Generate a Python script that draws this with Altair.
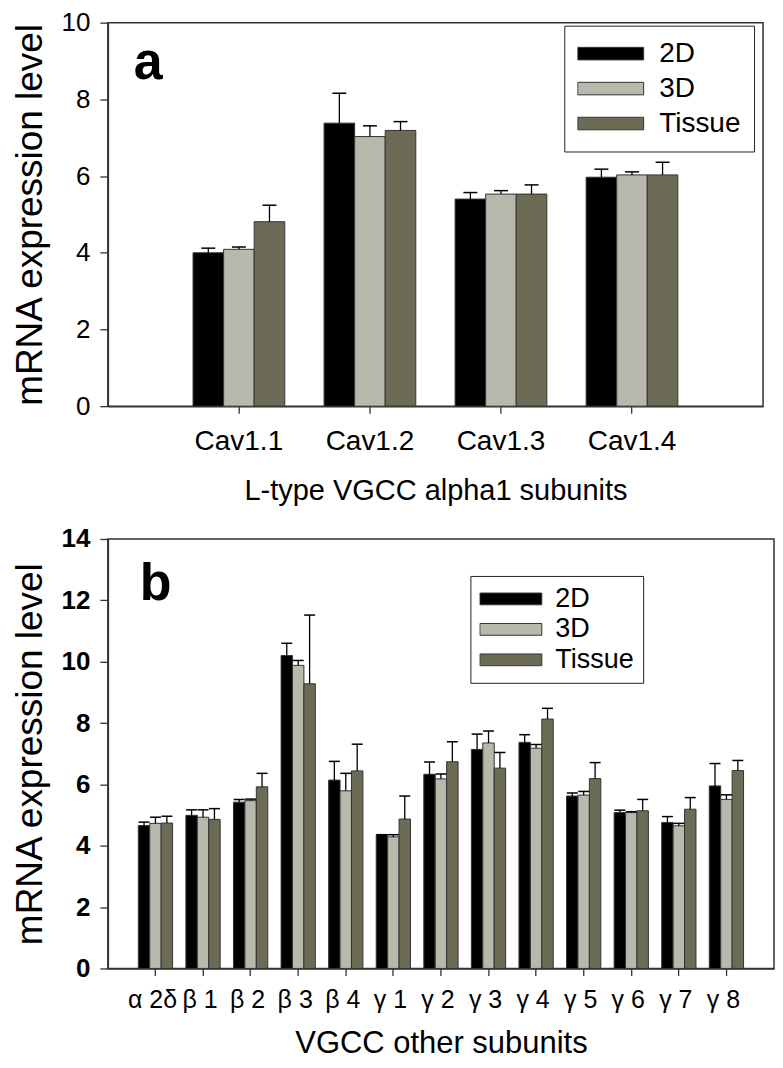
import altair as alt
import pandas as pd

series = ["2D", "3D", "Tissue"]
colors = ["#000000", "#b8b9ac", "#6c6c56"]

a_cats = ["Cav1.1", "Cav1.2", "Cav1.3", "Cav1.4"]
a_2d = [4.00, 7.38, 5.40, 5.97]
a_2d_err = [0.12, 0.78, 0.17, 0.21]
a_3d = [4.09, 7.03, 5.53, 6.03]
a_3d_err = [0.06, 0.28, 0.09, 0.08]
a_tis = [4.81, 7.19, 5.53, 6.03]
a_tis_err = [0.43, 0.23, 0.24, 0.33]

b_cats = ["α 2δ", "β 1", "β 2", "β 3", "β 4", "γ 1", "γ 2",
          "γ 3", "γ 4", "γ 5", "γ 6", "γ 7", "γ 8"]
b_2d = [4.66, 4.99, 5.42, 10.20, 6.14, 4.36, 6.33, 7.14, 7.37, 5.62, 5.08, 4.76, 5.95]
b_2d_err = [0.11, 0.18, 0.09, 0.40, 0.61, 0.00, 0.40, 0.50, 0.25, 0.10, 0.08, 0.19, 0.73]
b_3d = [4.73, 4.93, 5.47, 9.88, 5.79, 4.29, 6.18, 7.35, 7.18, 5.65, 5.08, 4.65, 5.51]
b_3d_err = [0.20, 0.24, 0.05, 0.16, 0.57, 0.07, 0.16, 0.39, 0.12, 0.12, 0.03, 0.08, 0.15]
b_tis = [4.74, 4.86, 5.92, 9.28, 6.44, 4.87, 6.74, 6.53, 8.13, 6.19, 5.14, 5.19, 6.45]
b_tis_err = [0.22, 0.35, 0.44, 2.24, 0.87, 0.75, 0.65, 0.51, 0.35, 0.52, 0.37, 0.38, 0.33]


def make_df(cats, vals, errs):
    rows = []
    for s, v, e in zip(series, vals, errs):
        for c, vi, ei in zip(cats, v, e):
            rows.append({"cat": c, "series": s, "value": vi, "upper": vi + ei})
    return pd.DataFrame(rows)


df_a = make_df(a_cats, [a_2d, a_3d, a_tis], [a_2d_err, a_3d_err, a_tis_err])
df_b = make_df(b_cats, [b_2d, b_3d, b_tis], [b_2d_err, b_3d_err, b_tis_err])

FONT = "Liberation Sans"
YTITLE = "mRNA expression level"


def panel(df, cats, ymax, w, h, pin, pout, xtitle, xlab_size, xtitle_size,
          ylab_weight, label, label_xy, cap_w, leg):
    x = alt.X("cat:N", sort=cats,
              scale=alt.Scale(paddingInner=pin, paddingOuter=pout),
              axis=alt.Axis(title=xtitle, labelAngle=0, labelFontSize=xlab_size,
                            titleFontSize=xtitle_size, titleFontWeight="normal",
                            labelPadding=leg["xlp"], titlePadding=leg["xtp"],
                            tickSize=7, labelOverlap=False,
                            labelOffset=leg.get("xlo", 0)))
    xo = alt.XOffset("series:N", sort=series,
                     scale=alt.Scale(paddingInner=0, paddingOuter=0))
    yax = alt.Axis(title=YTITLE, values=list(range(0, ymax + 1, 2)),
                   labelFontSize=26, labelFontWeight=ylab_weight,
                   titleFontSize=37, titleFontWeight="normal",
                   labelPadding=10, titlePadding=12, tickSize=8, grid=False)
    y = alt.Y("value:Q", scale=alt.Scale(domain=[0, ymax], nice=False), axis=yax)
    color = alt.Color("series:N",
                      scale=alt.Scale(domain=series, range=colors),
                      legend=alt.Legend(
                          title=None, orient="none",
                          legendX=leg["x"], legendY=leg["y"],
                          symbolType="M-1,-0.19L1,-0.19L1,0.19L-1,0.19Z",
                          symbolSize=leg["sym"] ** 2,
                          symbolStrokeColor="#333333", symbolStrokeWidth=1,
                          symbolOpacity=1, clipHeight=leg["ch"],
                          labelFontSize=leg["fs"], labelOffset=leg["lo"],
                          padding=leg["pad"], rowPadding=leg["rp"],
                          strokeColor="#222222", fillColor="white",
                          labelFont=FONT))
    base = alt.Chart(df)
    bars = base.mark_bar(stroke="#333333", strokeWidth=1, opacity=1).encode(
        x=x, xOffset=xo, y=y, color=color)
    whisk = base.mark_rule(color="black", strokeWidth=1.3).encode(
        x=x, xOffset=xo, y=alt.Y("value:Q", axis=yax), y2="upper:Q")
    caps = base.mark_tick(color="black", thickness=1.5, size=cap_w,
                          orient="horizontal", opacity=1).encode(
        x=x, xOffset=xo, y=alt.Y("upper:Q", axis=yax))
    lbl = alt.Chart(pd.DataFrame({"t": [label]})).mark_text(
        fontSize=52, fontWeight="bold", align="left", baseline="alphabetic",
        font=FONT, color="black").encode(
        x=alt.value(label_xy[0]), y=alt.value(label_xy[1]), text="t:N")
    return alt.layer(bars, whisk, caps, lbl).properties(width=w, height=h)


pa = panel(df_a, a_cats, 10, 656, 384, 0.3, 0.65,
           "L-type VGCC alpha1 subunits", 28, 29, "normal", "a", (26, 56), 14,
           {"x": 457, "y": 3, "sym": 66, "fs": 28, "lo": 15, "pad": 13,
            "rp": 5, "ch": 30, "xlp": 14, "xtp": 21})
pb = panel(df_b, b_cats, 14, 667, 430, 0.28, 0.64,
           "VGCC other subunits", 25, 31, "bold", "b", (32, 61), 11,
           {"x": 363, "y": 37, "sym": 62, "fs": 27, "lo": 13, "pad": 9,
            "rp": 2.5, "ch": 28, "xlp": 12, "xtp": 16, "xlo": -3})

chart = alt.vconcat(pa, pb, spacing=19).resolve_scale(
    color="independent", xOffset="independent").resolve_legend(
    color="independent").configure(
    font=FONT, padding={"left": 2, "top": 0, "right": 0, "bottom": 0}
).configure_view(stroke="#333333", strokeWidth=1.5).configure_axis(
    domainColor="#333333", domainWidth=1.5, tickColor="#333333", tickWidth=1.3,
    labelColor="black", titleColor="black", labelFont=FONT, titleFont=FONT
)

chart.save("out.html", embed_options={"renderer": "svg", "actions": False})
